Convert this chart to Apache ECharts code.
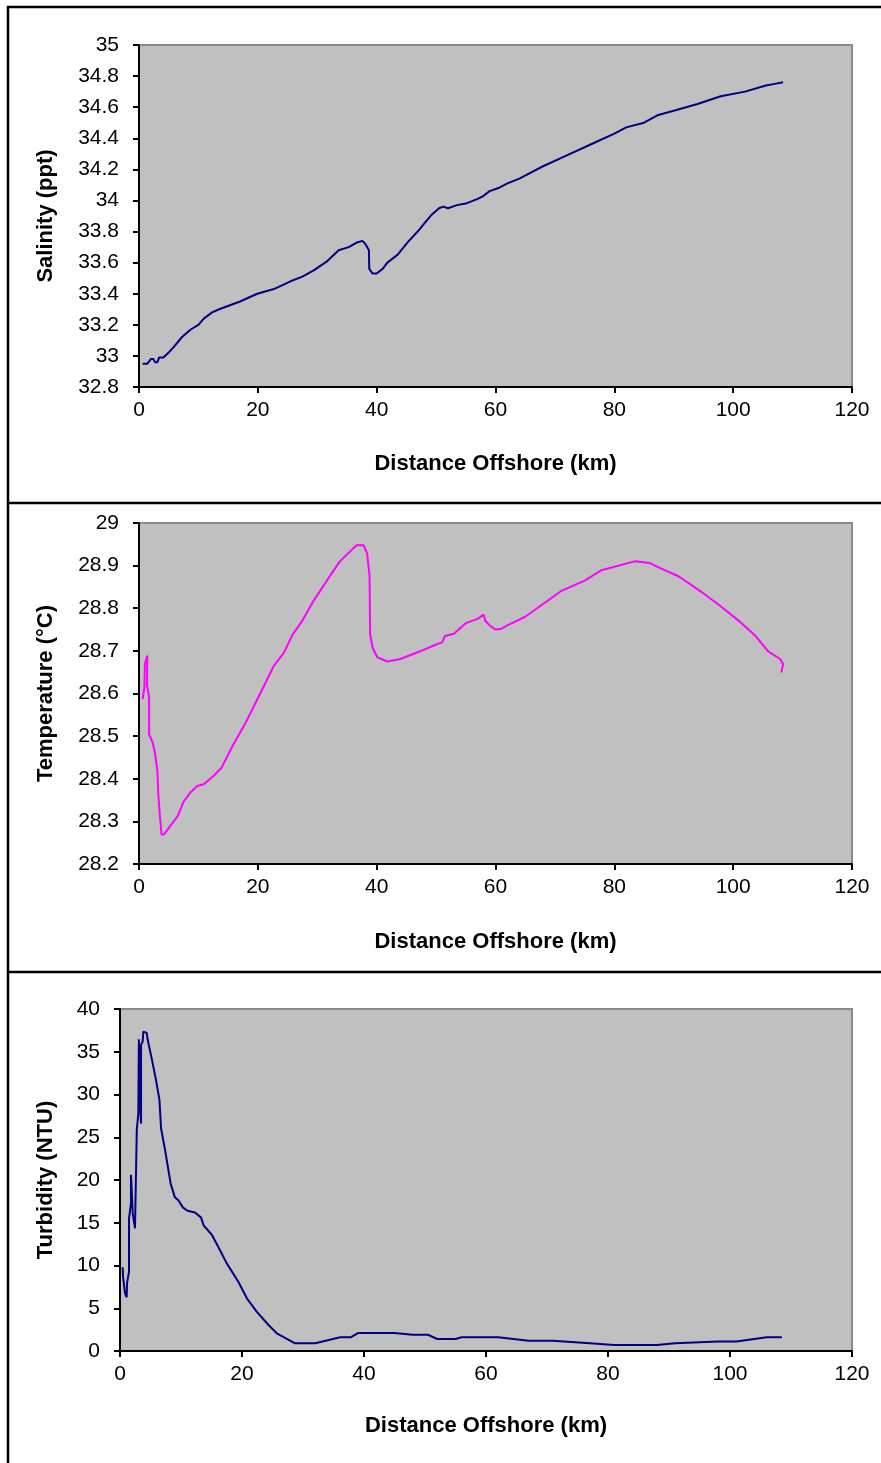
<!DOCTYPE html>
<html><head><meta charset="utf-8">
<script src="https://cdn.jsdelivr.net/npm/echarts@6/dist/echarts.min.js"></script>
<style>html,body{margin:0;padding:0;background:#fff}#c{width:881px;height:1463px}</style>
</head><body><div id="c"></div>
<script>
// Salinity profile [distance km, salinity ppt]
const salDist = [0.6,1.4,2.0,2.4,2.7,3.1,3.4,4.1,4.95,5.9,7.2,8.7,10.0,10.9,12.3,13.5,17.0,19.9,22.7,25.5,27.5,29.4,31.7,33.6,35.3,36.7,37.6,38.1,38.7,38.75,39.3,40.0,41.0,41.8,43.5,45.2,46.9,48.2,49.3,50.5,51.2,52.0,53.5,55.0,57.0,58.0,59.0,60.5,62.0,64.0,68.0,72.0,76.0,80.0,82.0,85.0,87.4,90.3,94.0,97.9,102.0,105.5,107.0,108.4];
const salVal  = [32.95,32.95,32.98,32.98,32.96,32.96,32.99,32.99,33.02,33.06,33.12,33.17,33.20,33.24,33.28,33.30,33.35,33.40,33.43,33.48,33.51,33.55,33.61,33.68,33.70,33.73,33.74,33.72,33.68,33.56,33.53,33.53,33.56,33.60,33.65,33.73,33.80,33.86,33.91,33.95,33.96,33.95,33.97,33.98,34.01,34.03,34.06,34.08,34.11,34.14,34.22,34.29,34.36,34.43,34.47,34.50,34.55,34.58,34.62,34.67,34.70,34.74,34.75,34.76];

// Temperature profile [distance km, temperature °C]
const tempDist = [0.62,0.9,1.0,1.4,1.35,1.7,1.7,2.3,2.7,3.1,3.25,3.5,3.8,4.2,5.3,6.5,7.5,8.6,9.8,10.9,12.5,13.9,15.9,17.9,20.4,22.7,24.4,25.8,27.5,29.4,32.2,33.8,36.6,37.8,38.4,38.8,38.9,39.3,40.1,41.8,44.0,47.3,50.0,51.0,51.5,53.0,55.0,57.0,58.0,58.3,59.0,60.0,61.0,62.0,65.0,68.0,71.0,75.0,77.8,83.4,86.0,87.9,90.8,94.7,97.8,100.9,103.7,105.9,107.9,108.4,108.1];
const tempVal  = [28.587,28.614,28.67,28.689,28.62,28.59,28.504,28.485,28.46,28.418,28.363,28.316,28.269,28.269,28.29,28.312,28.346,28.367,28.383,28.387,28.406,28.426,28.481,28.53,28.60,28.665,28.696,28.737,28.771,28.818,28.877,28.91,28.948,28.948,28.928,28.877,28.74,28.708,28.685,28.675,28.681,28.699,28.715,28.72,28.735,28.74,28.765,28.775,28.785,28.77,28.76,28.75,28.752,28.76,28.78,28.81,28.84,28.865,28.889,28.91,28.906,28.893,28.875,28.838,28.806,28.771,28.736,28.699,28.681,28.669,28.649];

// Turbidity profile [distance km, turbidity NTU]
const turbDist = [0.44,0.5,0.82,1.1,1.15,1.48,1.48,1.8,1.8,1.97,2.08,2.46,2.74,2.75,3.0,3.1,3.28,3.45,3.45,3.72,3.83,4.38,4.54,5.2,5.9,6.46,6.73,7.39,8.3,9.0,9.6,10.3,11.05,12.3,13.3,13.7,15.05,16.1,17.5,19.4,20.8,22.4,24.35,25.7,28.7,32.0,36.1,37.8,39.0,45.0,48.0,50.5,52.0,55.0,56.0,62.0,67.0,71.0,77.0,81.0,88.0,91.0,98.0,101.0,104.0,106.0,108.5];
const turbVal  = [9.79,8.7,6.75,6.28,7.9,9.28,15.5,17.3,20.6,18.05,16.1,14.35,14.2,25.8,27.8,36.45,28.6,26.6,35.8,36.2,37.35,37.2,36.4,34.2,31.7,29.4,26.05,23.5,19.6,17.97,17.6,16.8,16.4,16.2,15.6,14.7,13.6,12.2,10.25,8.1,6.16,4.6,3.04,2.07,0.9,0.9,1.6,1.6,2.1,2.1,1.9,1.9,1.4,1.4,1.6,1.6,1.2,1.2,0.9,0.7,0.7,0.9,1.1,1.1,1.4,1.6,1.6];

const xTitle = 'Distance Offshore (km)';
const yTitles = ['Salinity (ppt)', 'Temperature (°C)', 'Turbidity (NTU)'];
const yRanges = [[32.8, 35, 0.2], [28.2, 29, 0.1], [0, 40, 5]];
const xRange = [0, 120, 20];

const FONT = 'Liberation Sans, Arial, sans-serif';
const pair = (xs, ys) => xs.map((x, i) => [x, ys[i]]);

const grids = [
  {left: 139, top: 45, width: 713, height: 342},
  {left: 139, top: 523, width: 713, height: 341},
  {left: 120, top: 1009, width: 732, height: 342}
].map(g => Object.assign(g, {show: true, backgroundColor: '#C0C0C0', borderColor: '#8a8a8a', borderWidth: 2}));

const yGaps = [82, 82, 63];
const xGaps = [66, 67, 64];
const decimals = [1, 1, 0];

const xAxes = grids.map((g, i) => ({
  type: 'value', gridIndex: i, min: xRange[0], max: xRange[1], interval: xRange[2],
  name: xTitle, nameLocation: 'middle', nameGap: xGaps[i],
  nameTextStyle: {fontFamily: FONT, fontWeight: 'bold', fontSize: 22, color: '#000'},
  axisLine: {show: true, onZero: false, lineStyle: {color: '#000', width: 2}},
  axisTick: {show: true, inside: false, length: 6, lineStyle: {color: '#000', width: 2}},
  axisLabel: {fontFamily: FONT, fontSize: 21, color: '#000', margin: 13},
  splitLine: {show: false}
}));

const yAxes = grids.map((g, i) => ({
  type: 'value', gridIndex: i, min: yRanges[i][0], max: yRanges[i][1], interval: yRanges[i][2],
  name: yTitles[i], nameLocation: 'middle', nameGap: yGaps[i], nameRotate: 90,
  nameTextStyle: {fontFamily: FONT, fontWeight: 'bold', fontSize: 22, color: '#000'},
  axisLine: {show: true, onZero: false, lineStyle: {color: '#000', width: 2}},
  axisTick: {show: true, inside: false, length: 6, lineStyle: {color: '#000', width: 2}},
  axisLabel: {fontFamily: FONT, fontSize: 21, color: '#000', margin: 20,
    formatter: v => (+v.toFixed(decimals[i])).toString()},
  splitLine: {show: false}
}));

const mk = (i, data, color) => ({
  type: 'line', xAxisIndex: i, yAxisIndex: i, data: data, showSymbol: false, symbol: 'none',
  lineStyle: {color: color, width: 2}, animation: false, clip: true
});

const L = 2.5;
const option = {
  animation: false,
  backgroundColor: '#fff',
  grid: grids,
  xAxis: xAxes,
  yAxis: yAxes,
  series: [
    mk(0, pair(salDist, salVal), '#000080'),
    mk(1, pair(tempDist, tempVal), '#FF00FF'),
    mk(2, pair(turbDist, turbVal), '#000080')
  ],
  graphic: [
    {type: 'line', shape: {x1: 8, y1: 6, x2: 8, y2: 1463}, style: {stroke: '#000', lineWidth: L}},
    {type: 'line', shape: {x1: 7, y1: 7, x2: 881, y2: 7}, style: {stroke: '#000', lineWidth: L}},
    {type: 'line', shape: {x1: 7, y1: 503, x2: 881, y2: 503}, style: {stroke: '#000', lineWidth: L}},
    {type: 'line', shape: {x1: 7, y1: 972, x2: 881, y2: 972}, style: {stroke: '#000', lineWidth: L}}
  ]
};
echarts.init(document.getElementById('c'), null, {renderer: 'canvas'}).setOption(option);
</script></body></html>
